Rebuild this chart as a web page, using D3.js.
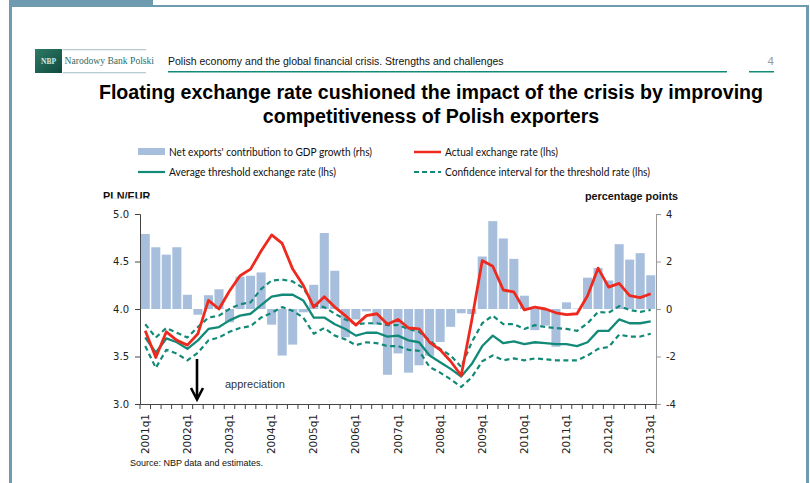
<!DOCTYPE html>
<html><head><meta charset="utf-8">
<script src="https://cdn.jsdelivr.net/npm/d3@7/dist/d3.min.js"></script>
<style>html,body{margin:0;padding:0;background:#fff;} svg{display:block}</style>
</head><body>
<svg id="c" width="810" height="483"></svg>
<script>
// ---------- DATA ----------
const categories = [
  "2001q1","2001q2","2001q3","2001q4","2002q1","2002q2","2002q3","2002q4",
  "2003q1","2003q2","2003q3","2003q4","2004q1","2004q2","2004q3","2004q4",
  "2005q1","2005q2","2005q3","2005q4","2006q1","2006q2","2006q3","2006q4",
  "2007q1","2007q2","2007q3","2007q4","2008q1","2008q2","2008q3","2008q4",
  "2009q1","2009q2","2009q3","2009q4","2010q1","2010q2","2010q3","2010q4",
  "2011q1","2011q2","2011q3","2011q4","2012q1","2012q2","2012q3","2012q4",
  "2013q1"];
// Net exports' contribution to GDP growth (rhs, percentage points)
const netExports = [3.16,2.6,2.29,2.6,0.6,-0.24,0.58,0.83,-0.56,1.36,1.4,1.54,
  -0.66,-1.96,-1.5,-0.14,1.02,3.2,1.61,-1.19,-0.44,-0.1,-0.66,-2.77,-1.87,-2.68,
  -2.37,-1.97,-1.39,-0.75,-0.18,-0.21,2.21,3.7,2.97,2.11,0.56,-0.89,-0.7,-1.59,
  0.28,0.02,1.32,1.73,1.2,2.73,2.08,2.35,1.42];
// Actual exchange rate (lhs, PLN/EUR)
const actualRate = [3.77,3.49,3.76,3.67,3.62,3.74,4.09,4.0,4.19,4.35,
  4.42,4.61,4.78,4.69,4.42,4.25,4.02,4.13,4.02,3.93,
  3.83,3.93,3.95,3.84,3.89,3.80,3.79,3.65,3.57,3.45,
  3.30,3.88,4.51,4.45,4.20,4.18,3.99,4.02,4.00,3.96,
  3.94,3.95,4.14,4.43,4.23,4.27,4.14,4.12,4.16];
// Average threshold exchange rate (lhs)
const thresholdAvg = [3.70,3.54,3.69,3.65,3.58,3.67,3.79,3.81,3.88,3.93,
  3.95,4.04,4.13,4.15,4.15,4.09,3.91,3.91,3.84,3.79,
  3.72,3.75,3.75,3.71,3.72,3.67,3.65,3.51,3.44,3.37,
  3.29,3.42,3.61,3.72,3.64,3.66,3.63,3.65,3.64,3.63,
  3.63,3.61,3.65,3.77,3.77,3.89,3.85,3.85,3.87];
// Confidence interval for the threshold rate (lhs)
const thresholdUpper = [3.84,3.70,3.80,3.75,3.70,3.81,3.91,3.93,4.00,4.05,
  4.07,4.21,4.30,4.31,4.29,4.22,4.04,4.02,3.95,3.89,
  3.84,3.85,3.85,3.83,3.83,3.79,3.76,3.67,3.58,3.51,
  3.39,3.65,3.85,3.93,3.84,3.84,3.79,3.83,3.81,3.80,
  3.79,3.77,3.85,3.97,3.96,4.03,3.99,3.97,3.99];
const thresholdLower = [3.61,3.38,3.57,3.53,3.46,3.54,3.67,3.70,3.76,3.80,
  3.82,3.91,3.96,4.02,3.98,3.91,3.74,3.80,3.72,3.68,
  3.62,3.65,3.64,3.61,3.61,3.57,3.56,3.39,3.33,3.26,
  3.18,3.28,3.45,3.51,3.46,3.48,3.46,3.48,3.47,3.46,
  3.46,3.46,3.51,3.58,3.60,3.73,3.71,3.71,3.74];
const leftTicks = [3.0,3.5,4.0,4.5,5.0];
const rightTicks = [-4,-2,0,2,4];
const xTickLabels = ["2001q1","2002q1","2003q1","2004q1","2005q1","2006q1","2007q1",
  "2008q1","2009q1","2010q1","2011q1","2012q1","2013q1"];
const legendLabels = ["Net exports' contribution to GDP growth (rhs)","Actual exchange rate (lhs)",
  "Average threshold exchange rate (lhs)","Confidence interval for the threshold rate (lhs)"];

// ---------- STYLE ----------
const C = {frame:"#6f9bb1", bar:"#a7bfdc", red:"#ee2a1f", teal:"#138a78", text:"#222"};
const svg = d3.select("#c");
const L = 140, R = 656, T = 214, B = 404;

// ---------- SLIDE FRAME ----------
svg.append("rect").attr("x",9).attr("y",0).attr("width",144).attr("height",6).attr("fill",C.frame);
svg.append("rect").attr("x",9).attr("y",5).attr("width",800).attr("height",2).attr("fill",C.frame);
svg.append("rect").attr("x",9).attr("y",0).attr("width",3).attr("height",483).attr("fill",C.frame);
svg.append("rect").attr("x",806).attr("y",5).attr("width",3).attr("height",478).attr("fill",C.frame);

// logo
const grad = svg.append("defs").append("linearGradient").attr("id","lg").attr("x1",0).attr("y1",0).attr("x2",1).attr("y2",1);
grad.append("stop").attr("offset","0%").attr("stop-color","#2f7a66");
grad.append("stop").attr("offset","100%").attr("stop-color","#0f4a3e");
svg.append("rect").attr("x",35).attr("y",49).attr("width",27).attr("height",24).attr("fill","url(#lg)");
svg.append("text").attr("x",48.5).attr("y",64).attr("text-anchor","middle")
  .attr("font-family","Liberation Serif").attr("font-weight","bold").attr("font-size",7.5)
  .attr("fill","#d8e8e2").text("NBP");
svg.append("rect").attr("x",63).attr("y",49).attr("width",83).attr("height",1.3).attr("fill","#b7cdd2");
svg.append("rect").attr("x",63).attr("y",72).attr("width",83).attr("height",1.3).attr("fill","#b7cdd2");
svg.append("text").attr("x",64.5).attr("y",64).attr("font-family","Liberation Serif")
  .attr("font-size",9.6).attr("fill","#2d6d67").text("Narodowy Bank Polski");

// header
svg.append("text").attr("x",168).attr("y",64.5).attr("font-family","Liberation Sans")
  .attr("font-size",10.5).attr("fill","#111").text("Polish economy and the global financial crisis. Strengths and challenges");
svg.append("rect").attr("x",168).attr("y",71).attr("width",559).attr("height",1.5).attr("fill",C.teal);
svg.append("text").attr("x",774).attr("y",65).attr("text-anchor","end").attr("font-family","Liberation Sans")
  .attr("font-size",11.5).attr("fill","#999").text("4");
svg.append("rect").attr("x",749).attr("y",71).attr("width",25).attr("height",1.5).attr("fill",C.teal);

// title
const title = svg.append("text").attr("text-anchor","middle").attr("font-family","Liberation Sans")
  .attr("font-weight","bold").attr("font-size",19.6).attr("fill","#000");
title.append("tspan").attr("x",431).attr("y",99).text("Floating exchange rate cushioned the impact of the crisis by improving");
title.append("tspan").attr("x",431).attr("y",123).text("competitiveness of Polish exporters");

// ---------- LEGEND ----------
const lg = svg.append("g").attr("font-family","Lato").attr("font-size",10.5).attr("fill","#111");
const lx1 = 138, lx2 = 414, ly1 = 152, ly2 = 172, sw = 27;
lg.append("rect").attr("x",lx1).attr("y",ly1-4).attr("width",sw).attr("height",7).attr("fill",C.bar);
lg.append("line").attr("x1",lx2).attr("x2",lx2+sw).attr("y1",ly1).attr("y2",ly1).attr("stroke",C.red).attr("stroke-width",2.5);
lg.append("line").attr("x1",lx1).attr("x2",lx1+sw).attr("y1",ly2).attr("y2",ly2).attr("stroke",C.teal).attr("stroke-width",2.2);
lg.append("line").attr("x1",lx2).attr("x2",lx2+sw).attr("y1",ly2).attr("y2",ly2).attr("stroke",C.teal).attr("stroke-width",2.2).attr("stroke-dasharray","5,3");
const legPos = [[lx1+sw+4,ly1,203],[lx2+sw+4,ly1,113],[lx1+sw+4,ly2,167],[lx2+sw+4,ly2,205]];
legendLabels.forEach((t,i)=>{
  lg.append("text").attr("x",legPos[i][0]).attr("y",legPos[i][1]+3.8)
    .attr("textLength",legPos[i][2]).attr("lengthAdjust","spacingAndGlyphs").text(t);
});

// axis titles
svg.append("clipPath").attr("id","plnclip").append("rect").attr("x",90).attr("y",185).attr("width",100).attr("height",13.6);
svg.append("text").attr("x",103).attr("y",200).attr("clip-path","url(#plnclip)").attr("font-family","Liberation Sans")
  .attr("font-weight","bold").attr("font-size",10.8).attr("fill","#111").text("PLN/EUR");
svg.append("text").attr("x",678).attr("y",200).attr("text-anchor","end").attr("font-family","Liberation Sans")
  .attr("font-weight","bold").attr("font-size",10.8).attr("fill","#111").text("percentage points");

// ---------- SCALES ----------
const x = d3.scaleBand().domain(categories).range([L,R]).paddingInner(0.14).paddingOuter(0.07);
const yL = d3.scaleLinear().domain([3,5]).range([B,T]);
const yR = d3.scaleLinear().domain([-4,4]).range([B,T]);
const cx = c => x(c) + x.bandwidth()/2;

// bars
svg.append("g").selectAll("rect").data(categories).join("rect")
  .attr("x",c=>x(c)).attr("width",x.bandwidth())
  .attr("y",(c,i)=>yR(Math.max(0,netExports[i])))
  .attr("height",(c,i)=>Math.abs(yR(netExports[i])-yR(0)))
  .attr("fill",C.bar);

// lines
const line = arr => d3.line().x((d,i)=>cx(categories[i])).y(d=>yL(d))(arr);
const lines = svg.append("g").attr("fill","none").attr("stroke-linejoin","round");
lines.append("path").attr("d",line(thresholdUpper)).attr("stroke",C.teal).attr("stroke-width",2.2).attr("stroke-dasharray","5,3.5");
lines.append("path").attr("d",line(thresholdLower)).attr("stroke",C.teal).attr("stroke-width",2.2).attr("stroke-dasharray","5,3.5");
lines.append("path").attr("d",line(thresholdAvg)).attr("stroke",C.teal).attr("stroke-width",2.3);
lines.append("path").attr("d",line(actualRate)).attr("stroke",C.red).attr("stroke-width",2.8);

// ---------- AXES ----------
const axL = svg.append("g").attr("transform",`translate(${L},0)`)
  .call(d3.axisLeft(yL).tickValues(leftTicks).tickFormat(d3.format(".1f")).tickSize(5).tickPadding(6));
const axR = svg.append("g").attr("transform",`translate(${R},0)`)
  .call(d3.axisRight(yR).tickValues(rightTicks).tickFormat(d=>d).tickSize(5).tickPadding(5));
[axL,axR].forEach(a=>{
  a.selectAll("path").attr("stroke","#444");
  a.selectAll("line").attr("stroke","#444");
  a.selectAll("text").attr("font-family","DejaVu Sans").attr("font-size",10).attr("fill",C.text);
});
axR.selectAll("path").attr("stroke","#999"); axR.selectAll("line").attr("stroke","#999");

// x axis
const xg = svg.append("g");
xg.append("line").attr("x1",L).attr("x2",R).attr("y1",B+0.5).attr("y2",B+0.5).attr("stroke","#444");
const bounds = categories.map(c=>x(c)-x.step()*x.paddingInner()/2).concat([R]);
xg.selectAll("line.t").data(bounds).join("line").attr("class","t")
  .attr("x1",d=>d).attr("x2",d=>d).attr("y1",B).attr("y2",B+5).attr("stroke","#444");
xg.selectAll("text").data(xTickLabels).join("text")
  .attr("transform",c=>`translate(${cx(c)+3.6},${B+10}) rotate(-90)`)
  .attr("text-anchor","end").attr("font-family","DejaVu Sans").attr("font-size",10.5).attr("fill",C.text)
  .text(c=>c);

// ---------- ANNOTATION ----------
const ann = svg.append("g");
ann.append("line").attr("x1",197).attr("x2",197).attr("y1",359).attr("y2",399).attr("stroke","#000").attr("stroke-width",2.6);
ann.append("path").attr("d","M191,388 L197,399.5 L203,388").attr("fill","none").attr("stroke","#000").attr("stroke-width",2.6);
ann.append("text").attr("x",225).attr("y",388).attr("font-family","Liberation Sans").attr("font-size",11).attr("fill","#333").text("appreciation");

svg.append("text").attr("x",130).attr("y",466).attr("font-family","Liberation Sans").attr("font-size",9).attr("fill","#111")
  .text("Source: NBP data and estimates.");
</script>
</body></html>
